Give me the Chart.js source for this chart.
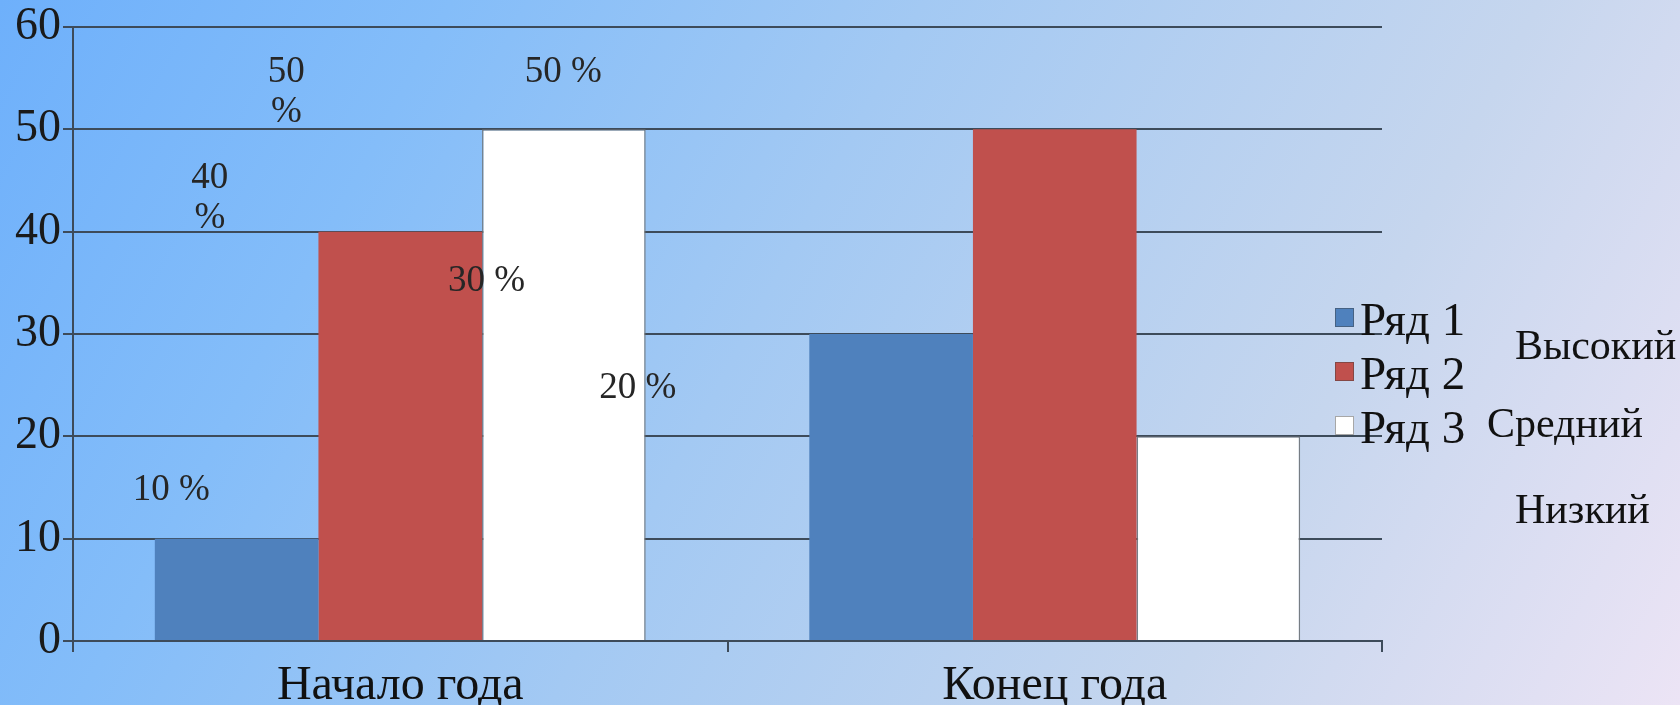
<!DOCTYPE html>
<html>
<head>
<meta charset="utf-8">
<script src="https://cdn.jsdelivr.net/npm/chart.js@4"></script>
<style>
  html, body { margin: 0; padding: 0; width: 1680px; height: 705px; overflow: hidden; }
  body { background: linear-gradient(118deg, #6eb0fb 0%, #84bdf9 22%, #a3c9f3 45%, #c6d6ee 75%, #ece4f5 100%); }
  canvas { display: block; }
</style>
</head>
<body>
<canvas id="c" width="1680" height="705"></canvas>
<script>
// ---- data ----
const categories = ['Начало года', 'Конец года'];
const seriesNames = ['Ряд 1', 'Ряд 2', 'Ряд 3'];
const series1 = [10, 30];
const series2 = [40, 50];
const series3 = [50, 20];
const yTicks = [0, 10, 20, 30, 40, 50, 60];
const pctLabels = ['10 %', '40\n%', '50\n%', '50 %', '30 %', '20 %'];
const sideLabels = ['Высокий', 'Средний', 'Низкий'];

// ---- label anchors (data space: category index offset, value) ----
const pctAnchors = [
  { cat: 0, dx: -0.350, v: 14.7 },
  { cat: 0, dx: -0.291, v: 43.3 },
  { cat: 0, dx: -0.174, v: 53.65 },
  { cat: 0, dx: 0.249, v: 55.6 },
  { cat: 0, dx: 0.132, v: 35.2 },
  { cat: 0, dx: 0.363, v: 24.7 }
];

const serif = '"Liberation Serif", "Times New Roman", serif';
const lineColor = '#3d4b5a';
const colors = ['#4f81bd', '#c0504d', '#ffffff'];

const annot = {
  id: 'annot',
  afterDatasetsDraw(chart) {
    const ctx = chart.ctx;
    const xs = chart.scales.x, ys = chart.scales.y;
    const catW = xs.getPixelForValue(1) - xs.getPixelForValue(0);
    ctx.save();
    // percentage labels
    ctx.font = '37px ' + serif;
    ctx.fillStyle = '#262626';
    ctx.textAlign = 'center';
    ctx.textBaseline = 'middle';
    pctLabels.forEach((t, i) => {
      const a = pctAnchors[i];
      const x = xs.getPixelForValue(a.cat) + a.dx * catW;
      const y = ys.getPixelForValue(a.v);
      const lines = t.split('\n');
      const lh = 40;
      lines.forEach((ln, k) => {
        ctx.fillText(ln, x, y + (k - (lines.length - 1) / 2) * lh);
      });
    });
    // legend
    const ca = chart.chartArea;
    const lx = ca.right - 47;
    const baselines = [335, 389, 443];
    ctx.font = '47px ' + serif;
    ctx.textAlign = 'left';
    ctx.textBaseline = 'alphabetic';
    chart.data.datasets.forEach((ds, i) => {
      const b = baselines[i];
      ctx.fillStyle = ds.backgroundColor;
      ctx.fillRect(lx, b - 27, 19, 19);
      ctx.strokeStyle = 'rgba(60,60,60,0.45)';
      ctx.lineWidth = 1;
      ctx.strokeRect(lx + 0.5, b - 26.5, 18, 18);
      ctx.fillStyle = '#111';
      ctx.fillText(ds.label, lx + 25, b);
    });
    // side labels
    ctx.font = '42px ' + serif;
    ctx.fillStyle = '#111';
    const sidePos = [[1515, 359], [1487, 437], [1515, 523]];
    sideLabels.forEach((t, i) => ctx.fillText(t, sidePos[i][0], sidePos[i][1]));
    ctx.restore();
  }
};

new Chart(document.getElementById('c'), {
  type: 'bar',
  data: {
    labels: categories,
    datasets: [
      { label: seriesNames[0], data: series1, backgroundColor: colors[0], borderWidth: 0 },
      { label: seriesNames[1], data: series2, backgroundColor: colors[1], borderWidth: 0 },
      { label: seriesNames[2], data: series3, backgroundColor: colors[2], borderColor: 'rgba(110,115,120,0.9)', borderWidth: 1.5 }
    ]
  },
  options: {
    responsive: false,
    devicePixelRatio: 1,
    animation: false,
    categoryPercentage: 0.75,
    barPercentage: 1.0,
    layout: { padding: { top: 27, right: 298, left: 0, bottom: 0 } },
    plugins: { legend: { display: false }, tooltip: { enabled: false } },
    scales: {
      y: {
        min: 0, max: 60,
        afterBuildTicks: s => { s.ticks = yTicks.map(v => ({ value: v })); },
        afterFit: s => { s.width = 73; s.paddingTop = 0; s.paddingBottom = 0; },
        ticks: { font: { family: serif, size: 46 }, color: '#1a1a1a', padding: 2 },
        grid: { color: lineColor, lineWidth: 2, tickLength: 10 },
        border: { display: true, color: lineColor, width: 2 }
      },
      x: {
        afterFit: s => { s.height = 64; s.paddingLeft = 0; s.paddingRight = 0; },
        ticks: { font: { family: serif, size: 48 }, color: '#111', padding: 6 },
        grid: { drawOnChartArea: false, offset: true, color: lineColor, lineWidth: 2, tickLength: 11 },
        border: { display: true, color: lineColor, width: 2 }
      }
    }
  },
  plugins: [annot]
});
</script>
</body>
</html>
